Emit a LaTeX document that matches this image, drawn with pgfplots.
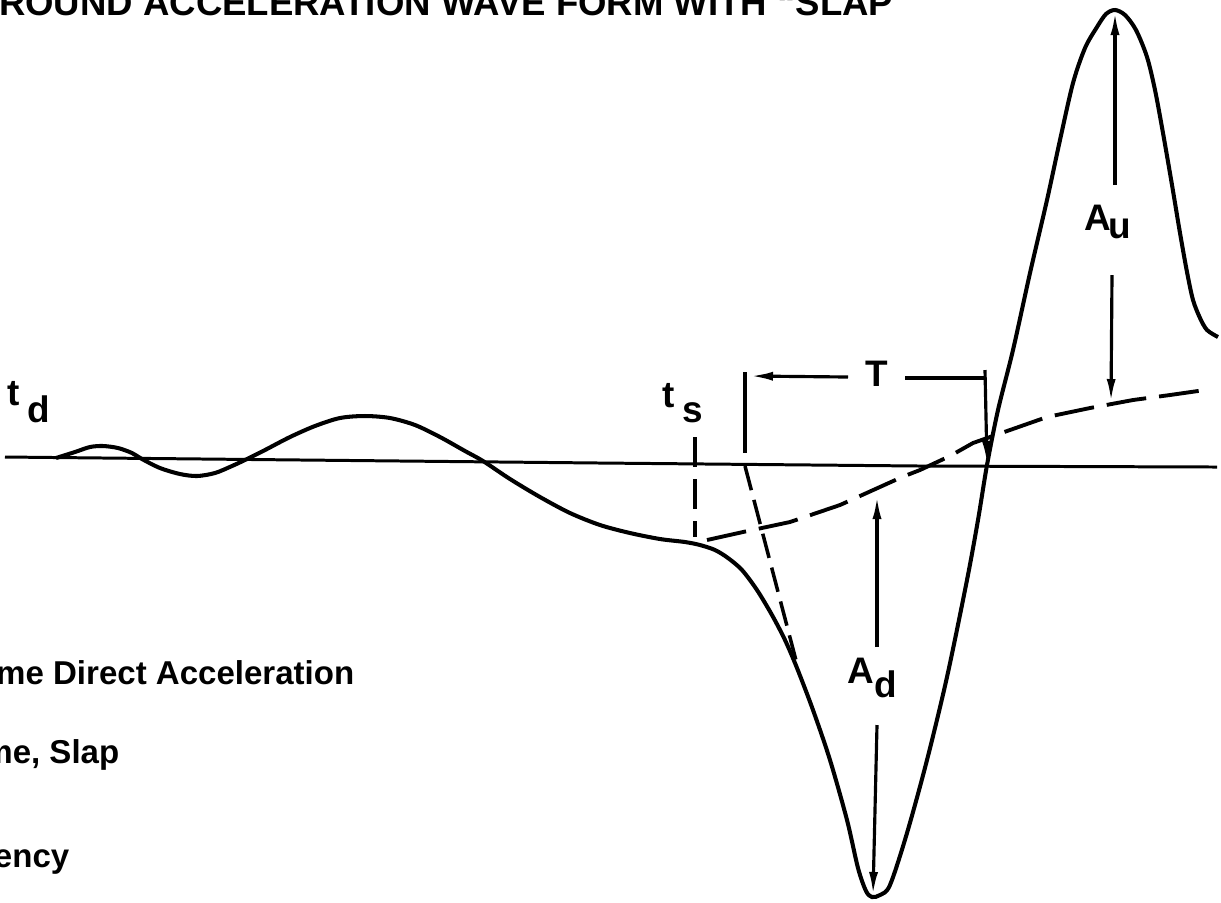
\documentclass[border=0pt]{standalone}
\usepackage{fontspec}
\setmainfont{Liberation Sans}
\usepackage{pgfplots}
\pgfplotsset{compat=1.18}
\usetikzlibrary{arrows.meta}

\newcommand{\lbl}{\fontsize{9.4}{11}\selectfont\bfseries}
\newcommand{\sym}{\fontsize{10.5}{12}\selectfont\bfseries}

\begin{document}
\begin{tikzpicture}
\path[use as bounding box] (0,0) rectangle (12.21cm,9.02cm);
\clip (0,0) rectangle (12.21cm,9.02cm);
\begin{axis}[
    at={(0,0)}, anchor=south west,
    width=12.21cm, height=9.02cm, scale only axis,
    xmin=0, xmax=1221, ymin=0, ymax=902,
    y dir=reverse,
    hide axis, clip=false,
    tip/.style={-{Latex[length=2.3mm,width=0.9mm]}},
]
% zero line
\addplot[black, line width=0.85pt] coordinates {(5,457) (600,463) (920,466) (1217,467)};

% ground acceleration record
\addplot[black, line width=1.15pt, smooth, tension=0.5] coordinates {
(56,458) (75,452) (90,447) (103,446) (118,448) (132,453) (142,459)
(160,468) (180,474) (197,476) (215,473) (232,466) (247,459) (265,450)
(290,437) (315,426) (340,418) (365,416) (390,418) (415,425) (440,437)
(465,451) (483,461) (510,479) (540,497) (570,513) (600,525) (630,533)
(660,539) (685,542) (700,545) (715,550) (728,558) (742,570) (757,590)
(772,615) (785,640) (797,668) (813,710) (830,760) (847,820) (858,868)
(866,891) (872,897) (880,895) (890,885) (907,833) (927,760) (947,677)
(967,580) (978,520) (987,465) (998,410) (1013,350) (1030,273) (1047,200)
(1060,140) (1073,83) (1085,48) (1097,27) (1106,14) (1115,10) (1125,15)
(1136,30) (1147,57) (1155,90) (1163,133) (1172,185) (1180,233) (1187,272)
(1193,300) (1200,318) (1207,330) (1218,337)
};

% slap baseline (dashed)
\addplot[black, line width=1.1pt, dash pattern=on 4mm off 1.3mm] coordinates {
(707,540) (743,532) (790,522) (840,505) (902,477) (920,470)
(950,456) (973,443) (990,437) (1047,417) (1090,408) (1133,400) (1170,395) (1205,390)
};
% t_s marker
\addplot[black, line width=1pt, dash pattern=on 3mm off 1.2mm] coordinates {(695,437) (695,537)};
% tangent to the slap
\addplot[black, line width=1pt, dash pattern=on 2.5mm off 1mm] coordinates {(745,466) (798,668)};

% period T
\addplot[black, line width=0.9pt] coordinates {(745,372) (745,453)};
\addplot[black, line width=0.9pt, tip] coordinates {(848,377) (750,376)};
\addplot[black, line width=0.9pt] coordinates {(905,378) (985,378)};
\addplot[black, line width=0.9pt, tip] coordinates {(985,370) (987,464)};

% A_d
\addplot[black, line width=0.9pt, tip] coordinates {(877,647) (877,496)};
\addplot[black, line width=0.9pt, tip] coordinates {(877,725) (873,895)};
% A_u
\addplot[black, line width=0.9pt, tip] coordinates {(1115,185) (1115,12)};
\addplot[black, line width=0.9pt, tip] coordinates {(1112,275) (1111,402)};

% symbols
\node[anchor=base west, inner sep=0pt] at (7,405) {\sym t};
\node[anchor=base west, inner sep=0pt] at (27,422) {\sym d};
\node[anchor=base west, inner sep=0pt] at (662,407) {\sym t};
\node[anchor=base west, inner sep=0pt] at (682,422) {\sym s};
\node[anchor=base, inner sep=0pt] at (877,386) {\sym T};
\node[anchor=base west, inner sep=0pt] at (847,683) {\sym A};
\node[anchor=base west, inner sep=0pt] at (874,697) {\sym d};
\node[anchor=base west, inner sep=0pt] at (1084,230) {\sym A};
\node[anchor=base west, inner sep=0pt] at (1108,238) {\sym u};

% title (cropped at the top of the sheet, as in the scan)
\node[anchor=base west, inner sep=0pt] at (-30,15) {\fontsize{10.4}{12}\selectfont\bfseries GROUND ACCELERATION WAVE FORM WITH \textquotedblleft SLAP};

% key (cropped at the left of the sheet, as in the scan)
\node[anchor=base east, inner sep=0pt] at (355,684) {\lbl Arrival Time Direct Acceleration};
\node[anchor=base east, inner sep=0pt] at (120,763) {\lbl Arrival Time, Slap};
\node[anchor=base east, inner sep=0pt] at (70,867) {\lbl Frequency};
\end{axis}
\end{tikzpicture}
\end{document}
